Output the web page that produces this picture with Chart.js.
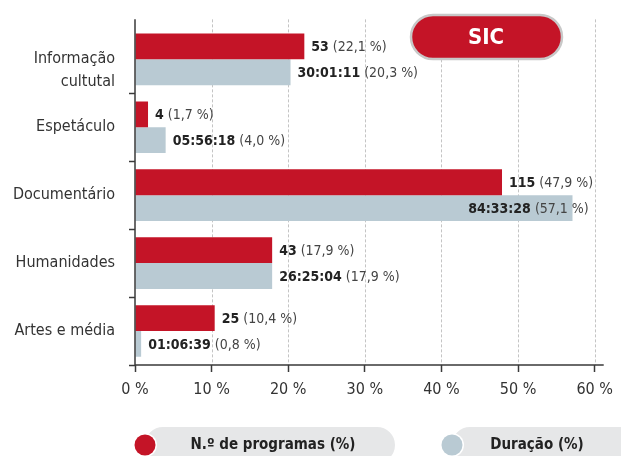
<!DOCTYPE html>
<html>
<head>
<meta charset="utf-8">
<script src="https://cdn.jsdelivr.net/npm/chart.js@4.4.1/dist/chart.umd.min.js"></script>
<style>
  html, body { margin: 0; padding: 0; background: #fff; }
  #wrap { width: 621px; height: 456px; position: relative; }
</style>
</head>
<body>
<div id="wrap"><canvas id="chart" width="621" height="456"></canvas></div>
<script>
// Dados do gráfico
const categories = [['Informação', 'cultutal'], 'Espetáculo', 'Documentário', 'Humanidades', 'Artes e média'];
const programCounts = [53, 4, 115, 43, 25];
const programPct = [22.1, 1.7, 47.9, 17.9, 10.4];
const durations = ['30:01:11', '05:56:18', '84:33:28', '26:25:04', '01:06:39'];
const durationPct = [20.3, 4.0, 57.1, 17.9, 0.8];
const xTicks = [0, 10, 20, 30, 40, 50, 60];
const seriesNames = ['N.º de programas (%)', 'Duração (%)'];
const channel = 'SIC';

const RED = '#C41427';
const GREY = '#B9CAD3';
const FONT = '"DejaVu Sans Condensed", "DejaVu Sans", sans-serif';
const AXIS = '#3a3a3a';

const fmt = v => v.toFixed(1).replace('.', ',') + ' %';

const roundRect = (c, x, y, w, h, r) => {
    c.beginPath();
    c.moveTo(x + r, y);
    c.lineTo(x + w - r, y);
    c.arc(x + w - r, y + r, r, -Math.PI / 2, Math.PI / 2);
    c.lineTo(x + r, y + h);
    c.arc(x + r, y + r, r, Math.PI / 2, Math.PI * 1.5);
    c.closePath();
};

// Grelha, eixos, rótulos, legenda e etiqueta do canal
const decorations = {
    id: 'decorations',
    beforeDatasetsDraw(chart) {
        const c = chart.ctx;
        const xs = chart.scales.x;
        const area = chart.chartArea;
        c.save();
        c.strokeStyle = '#c4c4c4';
        c.lineWidth = 1;
        c.setLineDash([3, 2]);
        xTicks.slice(1).forEach(v => {
            const px = Math.round(xs.getPixelForValue(v)) + 0.5;
            c.beginPath();
            c.moveTo(px, area.top - 6);
            c.lineTo(px, area.bottom);
            c.stroke();
        });
        c.restore();
    },
    afterDatasetsDraw(chart) {
        const c = chart.ctx;
        const area = chart.chartArea;
        c.save();
        // eixos
        c.strokeStyle = AXIS;
        c.lineWidth = 1.5;
        c.beginPath();
        c.moveTo(area.left, area.top - 6);
        c.lineTo(area.left, area.bottom);
        c.lineTo(area.right + 9, area.bottom);
        c.stroke();

        // rótulos das barras
        c.textBaseline = 'middle';
        chart.data.datasets.forEach((ds, di) => {
            const meta = chart.getDatasetMeta(di);
            meta.data.forEach((bar, i) => {
                const bold = di === 0 ? String(programCounts[i]) : durations[i];
                const rest = ' (' + fmt(di === 0 ? programPct[i] : durationPct[i]) + ')';
                c.font = 'bold 14px ' + FONT;
                const wb = c.measureText(bold).width;
                c.font = '14px ' + FONT;
                const wr = c.measureText(rest).width;
                let x = bar.x + 7;
                if (x + wb + wr > area.right) x = area.right - 6 - wb - wr;
                c.textAlign = 'left';
                c.font = 'bold 14px ' + FONT;
                c.fillStyle = '#222';
                c.fillText(bold, x, bar.y + 1);
                c.font = '14px ' + FONT;
                c.fillStyle = '#444';
                c.fillText(rest, x + wb, bar.y + 1);
            });
        });
        c.restore();
    },
    afterDraw(chart) {
        const c = chart.ctx;
        c.save();
        // etiqueta SIC
        roundRect(c, 411, 15, 151, 44, 22);
        c.fillStyle = RED;
        c.fill();
        c.lineWidth = 2.5;
        c.strokeStyle = '#c8c8c8';
        c.stroke();
        c.fillStyle = '#fff';
        c.font = 'bold 22px ' + FONT;
        c.textAlign = 'center';
        c.textBaseline = 'middle';
        c.fillText(channel, 486, 38);

        // legenda
        const items = [
            { left: 145, right: 395, text: seriesNames[0], color: RED, tx: 273 },
            { left: 452, right: 640, text: seriesNames[1], color: GREY, tx: 537 }
        ];
        items.forEach(it => {
            roundRect(c, it.left, 427, it.right - it.left, 40, 18);
            c.fillStyle = '#e6e7e8';
            c.fill();
            c.beginPath();
            c.arc(it.left, 445, 12, 0, Math.PI * 2);
            c.fillStyle = '#fff';
            c.fill();
            c.beginPath();
            c.arc(it.left, 445, 10.5, 0, Math.PI * 2);
            c.fillStyle = it.color;
            c.fill();
            c.fillStyle = '#222';
            c.font = 'bold 15px ' + FONT;
            c.textAlign = 'center';
            c.fillText(it.text, it.tx, 445);
        });
        c.restore();
    }
};

new Chart(document.getElementById('chart'), {
    type: 'bar',
    data: {
        labels: categories,
        datasets: [
            {
                label: seriesNames[0],
                data: programPct,
                backgroundColor: RED,
                categoryPercentage: 0.76,
                barPercentage: 1.0
            },
            {
                label: seriesNames[1],
                data: durationPct,
                backgroundColor: GREY,
                categoryPercentage: 0.76,
                barPercentage: 1.0
            }
        ]
    },
    options: {
        indexAxis: 'y',
        responsive: false,
        animation: false,
        layout: { padding: { top: 23, right: 18, bottom: 51, left: 0 } },
        plugins: {
            legend: { display: false },
            tooltip: { enabled: false }
        },
        scales: {
            x: {
                min: 0,
                max: 60,
                afterBuildTicks: s => { s.ticks = xTicks.map(v => ({ value: v })); },
                afterFit: s => { s.height = 40; },
                border: { display: false },
                grid: {
                    drawOnChartArea: false,
                    drawTicks: true,
                    tickLength: 7,
                    tickColor: AXIS,
                    tickWidth: 1.5
                },
                ticks: {
                    padding: 8,
                    autoSkip: false,
                    maxRotation: 0,
                    color: '#333',
                    font: { family: FONT, size: 16 },
                    callback: v => v + ' %'
                }
            },
            y: {
                afterFit: s => { s.width = 135; },
                border: { display: false },
                grid: {
                    offset: true,
                    drawOnChartArea: false,
                    drawTicks: true,
                    tickLength: 6,
                    tickColor: ctx => ctx.index === 0 ? 'rgba(0,0,0,0)' : AXIS,
                    tickWidth: 1.5
                },
                ticks: {
                    padding: 14,
                    autoSkip: false,
                    color: '#333',
                    font: { family: FONT, size: 16, lineHeight: 1.42 },
                    callback: function (v, i) {
                        const l = categories[i];
                        return Array.isArray(l) ? [''].concat(l) : l;
                    }
                }
            }
        }
    },
    plugins: [decorations]
});
</script>
</body>
</html>
